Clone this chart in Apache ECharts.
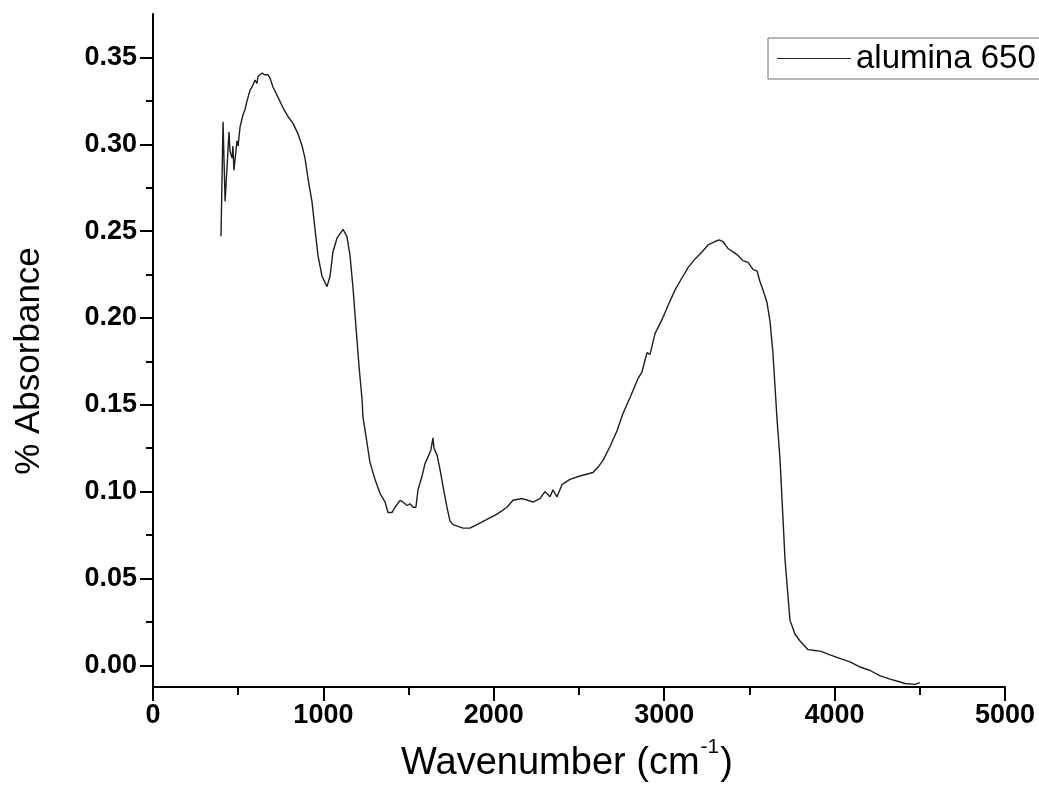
<!DOCTYPE html>
<html>
<head>
<meta charset="utf-8">
<title>alumina 650 – IR absorbance</title>
<script src="https://cdn.jsdelivr.net/npm/echarts@6/dist/echarts.min.js"></script>
<style>
  html, body { margin: 0; padding: 0; background: #fff; }
  #chart { width: 1039px; height: 810px; }
</style>
</head>
<body>
<div id="chart"></div>
<script>
// FTIR spectrum of alumina calcined at 650 °C
const seriesName = 'alumina 650';

// wavenumber (cm^-1)
const wavenumber = [
  399, 411, 423, 446, 452, 464, 469, 475, 493, 499, 511, 522, 528, 540, 552, 569, 581, 599,
  610, 616, 628, 640, 657, 675, 687, 704, 734, 763, 792, 822, 851, 875, 892, 910, 933, 951,
  968, 992, 1021, 1039, 1056, 1080, 1115, 1138, 1156, 1174, 1191, 1210, 1227, 1232, 1256,
  1273, 1303, 1332, 1362, 1379, 1403, 1420, 1450, 1467, 1491, 1508, 1526, 1543, 1555, 1579,
  1596, 1614, 1631, 1643, 1649, 1667, 1684, 1702, 1725, 1743, 1761, 1790, 1819, 1860, 1901,
  1960, 2019, 2077, 2113, 2166, 2201, 2230, 2271, 2300, 2330, 2347, 2371, 2400, 2447, 2506,
  2582, 2611, 2641, 2682, 2723, 2758, 2799, 2846, 2870, 2899, 2917, 2946, 2987, 3022, 3063,
  3104, 3140, 3181, 3222, 3257, 3298, 3322, 3345, 3374, 3404, 3433, 3462, 3492, 3521, 3545,
  3562, 3580, 3603, 3621, 3638, 3650, 3662, 3680, 3709, 3738, 3767, 3797, 3844, 3885, 3920,
  3973, 4030, 4090, 4150, 4208, 4265, 4325, 4380, 4413, 4472, 4500
];

// absorbance
const absorbance = [
  0.247, 0.313, 0.267, 0.307, 0.296, 0.292, 0.299, 0.285, 0.302, 0.299, 0.310, 0.309, 0.317,
  0.320, 0.325, 0.331, 0.333, 0.337, 0.335, 0.339, 0.340, 0.341, 0.340, 0.340, 0.338, 0.333,
  0.327, 0.321, 0.316, 0.312, 0.306, 0.299, 0.292, 0.280, 0.267, 0.251, 0.236, 0.224, 0.218,
  0.224, 0.238, 0.246, 0.251, 0.247, 0.236, 0.217, 0.195, 0.171, 0.153, 0.143, 0.128, 0.117,
  0.107, 0.099, 0.094, 0.088, 0.088, 0.091, 0.095, 0.094, 0.092, 0.093, 0.091, 0.091, 0.101,
  0.109, 0.116, 0.120, 0.124, 0.131, 0.125, 0.121, 0.113, 0.103, 0.091, 0.083, 0.081, 0.080,
  0.079, 0.079, 0.081, 0.084, 0.087, 0.091, 0.095, 0.096, 0.095, 0.094, 0.096, 0.100, 0.097,
  0.101, 0.097, 0.104, 0.107, 0.109, 0.111, 0.114, 0.118, 0.126, 0.135, 0.145, 0.154, 0.165,
  0.169, 0.180, 0.179, 0.191, 0.199, 0.207, 0.216, 0.223, 0.229, 0.234, 0.238, 0.242, 0.244,
  0.245, 0.244, 0.240, 0.238, 0.236, 0.233, 0.232, 0.228, 0.227, 0.221, 0.216, 0.209, 0.198,
  0.180, 0.161, 0.142, 0.118, 0.061, 0.026, 0.018, 0.014, 0.009, 0.0085, 0.008, 0.006, 0.004,
  0.002, -0.001, -0.003, -0.006, -0.008, -0.0095, -0.0105, -0.011, -0.010
];

// axis ranges and tick steps
const X_MIN = 0, X_MAX = 5000, X_STEP = 1000;
const Y_MIN = -0.0125, Y_MAX = 0.375, Y_STEP = 0.05, Y_TICK_MAX = 0.35;

const W = 1039, H = 810;
const grid = { left: 153, right: 34, top: 14, bottom: 123 };
const plotH = H - grid.top - grid.bottom;
const yPx = v => grid.top + (Y_MAX - v) / (Y_MAX - Y_MIN) * plotH;

const FONT = '"Liberation Sans", Arial, sans-serif';
const INK = '#000';

const points = wavenumber.map((w, i) => [w, absorbance[i]]);

const chart = echarts.init(document.getElementById('chart'), null, { renderer: 'canvas' });

chart.setOption({
  backgroundColor: '#fff',
  animation: false,
  grid: [
    // plotting area
    { left: grid.left, right: grid.right, top: grid.top, bottom: grid.bottom },
    // same horizontal span, vertical span 0 .. 0.35 for the labelled y ticks
    { left: grid.left, right: grid.right, top: yPx(Y_TICK_MAX), bottom: H - yPx(0) }
  ],
  xAxis: [
    {
      gridIndex: 0, type: 'value', min: X_MIN, max: X_MAX, interval: X_STEP,
      axisLine: { show: true, onZero: false, lineStyle: { color: INK, width: 2 } },
      axisTick: { show: true, inside: false, length: 14, lineStyle: { color: INK, width: 2 } },
      minorTick: { show: true, splitNumber: 2, length: 8, lineStyle: { color: INK, width: 2 } },
      splitLine: { show: false },
      axisLabel: {
        margin: 15, color: INK, fontFamily: FONT, fontWeight: 'bold', fontSize: 27,
        formatter: v => String(v)
      }
    },
    { gridIndex: 1, type: 'value', min: X_MIN, max: X_MAX, show: false }
  ],
  yAxis: [
    {
      gridIndex: 0, type: 'value', min: Y_MIN, max: Y_MAX,
      axisLine: { show: true, onZero: false, lineStyle: { color: INK, width: 2 } },
      axisTick: { show: false },
      axisLabel: { show: false },
      splitLine: { show: false }
    },
    {
      gridIndex: 1, type: 'value', min: 0, max: Y_TICK_MAX, interval: Y_STEP,
      axisLine: { show: false },
      axisTick: { show: true, inside: false, length: 13, lineStyle: { color: INK, width: 2 } },
      minorTick: { show: true, splitNumber: 2, length: 7, lineStyle: { color: INK, width: 2 } },
      splitLine: { show: false },
      axisLabel: {
        margin: 16, color: INK, fontFamily: FONT, fontWeight: 'bold', fontSize: 27,
        formatter: v => v.toFixed(2)
      }
    }
  ],
  legend: {
    show: true,
    left: 768, top: 38,
    padding: [4, 12, 4, 9],
    borderColor: '#6e6e6e', borderWidth: 1,
    itemWidth: 74, itemHeight: 14,
    textStyle: { fontFamily: FONT, fontSize: 33, color: INK, lineHeight: 33 },
    data: [{ name: seriesName, icon: 'path://M0,0 L74,0 L74,1 L0,1 Z' }],
    itemStyle: { color: '#222' }
  },
  series: [{
    name: seriesName,
    type: 'line',
    xAxisIndex: 0, yAxisIndex: 0,
    data: points,
    showSymbol: false,
    symbol: 'none',
    smooth: false,
    lineStyle: { color: '#1e1e1e', width: 1.4 },
    itemStyle: { color: '#1e1e1e' }
  }],
  graphic: [
    {
      type: 'text', x: 29, y: 361, rotation: Math.PI / 2,
      style: {
        text: '% Absorbance', fontFamily: FONT, fontSize: 35, fill: INK,
        align: 'center', verticalAlign: 'middle'
      }
    },
    {
      type: 'text', x: 567, y: 760,
      style: {
        text: '{t|Wavenumber (cm}{s|-1}{t|)}',
        align: 'center', verticalAlign: 'middle',
        rich: {
          t: { fontFamily: FONT, fontSize: 38, lineHeight: 46, fill: INK, color: INK, verticalAlign: 'bottom' },
          s: { fontFamily: FONT, fontSize: 21, lineHeight: 21, fill: INK, color: INK, verticalAlign: 'top', padding: [0, 1, 0, 1] }
        }
      }
    }
  ]
});
</script>
</body>
</html>
